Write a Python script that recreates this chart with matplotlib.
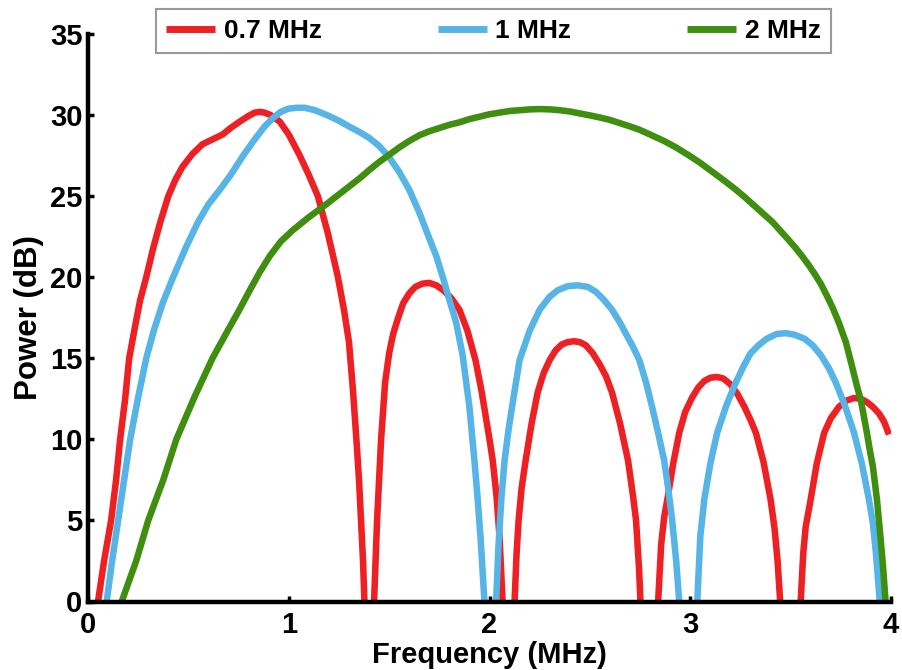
import matplotlib
matplotlib.use("Agg")
import matplotlib.pyplot as plt

# ---- data ----
labels = ["0.7 MHz", "1 MHz", "2 MHz"]

x_07 = [0.05, 0.08, 0.115, 0.14, 0.16, 0.185, 0.205, 0.235, 0.26, 0.29, 0.325, 0.36, 0.40, 0.435, 0.47,
        0.52, 0.57, 0.62, 0.67, 0.71, 0.756, 0.80, 0.83, 0.856, 0.88, 0.91, 0.955, 1.0, 1.055, 1.10,
        1.145, 1.195, 1.245, 1.275, 1.30, 1.32, 1.337, 1.35, 1.36, 1.37, 1.377, 1.40,
        1.425, 1.44, 1.46, 1.48, 1.50, 1.52, 1.545, 1.57, 1.60, 1.63, 1.665, 1.70, 1.735, 1.77, 1.81,
        1.85, 1.89, 1.93, 1.96, 1.98, 2.00, 2.016, 2.035, 2.05, 2.065, 2.095,
        2.125, 2.135, 2.145, 2.16, 2.18, 2.21, 2.24, 2.27, 2.30, 2.33, 2.36, 2.39, 2.42, 2.45, 2.48,
        2.515, 2.55, 2.58, 2.61, 2.65, 2.69, 2.715, 2.73, 2.745, 2.752, 2.795,
        2.84, 2.855, 2.87, 2.886, 2.915, 2.945, 2.975, 3.01, 3.04, 3.07, 3.10, 3.134, 3.165, 3.20,
        3.235, 3.27, 3.30, 3.327, 3.365, 3.40, 3.42, 3.435, 3.448, 3.50,
        3.55, 3.563, 3.575, 3.60, 3.63, 3.667, 3.70, 3.74, 3.78, 3.815, 3.85, 3.88, 3.91, 3.94,
        3.965, 3.99]
y_07 = [0, 2.5, 5, 7.5, 10, 12.5, 15, 17, 18.6, 20, 21.8, 23.4, 25, 26, 26.8,
        27.6, 28.2, 28.5, 28.8, 29.2, 29.6, 29.95, 30.15, 30.2, 30.15, 30.0, 29.6, 28.8, 27.5, 26.3,
        25, 22.7, 20, 18, 16, 13, 10, 7.5, 5, 2.5, 0, -10,
        0, 5, 10, 13.5, 15.3, 16.5, 17.5, 18.4, 19.0, 19.4, 19.6, 19.65, 19.5, 19.2, 18.7,
        18.0, 16.7, 14.9, 13.0, 11.5, 10, 8.7, 6.5, 4, 0, -10,
        0, 3, 5, 7, 8.7, 11, 12.9, 14.1, 14.9, 15.5, 15.85, 16.0, 16.05, 16.0, 15.8,
        15.3, 14.6, 13.9, 12.9, 11, 8.7, 6.5, 5, 2, 0, -10,
        0, 3.5, 5.2, 6.3, 8.5, 10.4, 11.7, 12.6, 13.2, 13.6, 13.8, 13.85, 13.75, 13.4,
        12.8, 12, 11.2, 10.4, 8.6, 6.3, 4.5, 2.5, 0, -10,
        0, 3, 4.6, 6.3, 8.5, 10.4, 11.3, 12.0, 12.4, 12.55, 12.5, 12.3, 12.0, 11.6,
        11.1, 10.3]

x_1 = [0.093, 0.12, 0.15, 0.18, 0.21, 0.25, 0.29, 0.33, 0.375, 0.424, 0.49, 0.548, 0.60, 0.657,
       0.71, 0.773, 0.83, 0.88, 0.92, 0.96, 1.00, 1.04, 1.08, 1.13, 1.19, 1.25, 1.30, 1.353, 1.40, 1.45,
       1.50, 1.55, 1.60, 1.65, 1.70, 1.735, 1.77, 1.80, 1.834, 1.866, 1.90, 1.925,
       1.94, 1.955, 1.975, 2.005,
       2.033, 2.045, 2.06, 2.075, 2.095, 2.12, 2.15, 2.20, 2.25, 2.30, 2.34, 2.39, 2.44, 2.49, 2.53,
       2.57, 2.61, 2.65, 2.68, 2.715, 2.746, 2.78, 2.81, 2.84, 2.87, 2.89, 2.91, 2.93, 2.945, 2.99,
       3.035, 3.05, 3.07, 3.10, 3.134, 3.18, 3.227, 3.265, 3.30, 3.34, 3.38, 3.43, 3.476, 3.52, 3.57,
       3.61, 3.65, 3.69, 3.725, 3.77, 3.816, 3.855, 3.89, 3.91, 3.925, 3.944, 3.99]
y_1 = [0, 2.5, 5, 7.5, 10, 12.6, 15, 16.8, 18.5, 20, 21.9, 23.4, 24.5, 25.4,
       26.3, 27.5, 28.5, 29.3, 29.8, 30.2, 30.4, 30.45, 30.45, 30.3, 30.0, 29.65, 29.3, 28.95, 28.6, 28.1,
       27.4, 26.5, 25.4, 24.0, 22.4, 21.3, 19.9, 18.6, 17.2, 15.2, 12.0, 8.7,
       6.5, 4, 0, -10,
       0, 3.5, 6.5, 8.7, 10.6, 12.6, 14.9, 16.7, 18, 18.8, 19.2, 19.45, 19.5, 19.4, 19.1,
       18.6, 18, 17.2, 16.5, 15.7, 14.9, 13.5, 12, 10.4, 8.7, 7, 5, 2.5, 0, -10,
       0, 4, 6.3, 8.5, 10.4, 12.1, 13.5, 14.5, 15.3, 15.8, 16.2, 16.5, 16.55, 16.45, 16.2,
       15.8, 15.2, 14.4, 13.5, 12.1, 10.4, 8.5, 6.3, 4.8, 3, 0, -10]

x_2 = [0.168, 0.24, 0.30, 0.375, 0.44, 0.485, 0.53, 0.575, 0.62, 0.66, 0.70, 0.75, 0.806, 0.855,
       0.905, 0.96, 1.02, 1.10, 1.187, 1.27, 1.353, 1.40, 1.45, 1.50, 1.55, 1.60, 1.65, 1.70, 1.75,
       1.80, 1.85, 1.90, 1.95, 2.00, 2.05, 2.10, 2.15, 2.20, 2.25, 2.30, 2.35, 2.40, 2.45, 2.50,
       2.55, 2.60, 2.65, 2.70, 2.746, 2.80, 2.87, 2.93, 2.995, 3.05, 3.11, 3.17, 3.227, 3.275, 3.32,
       3.365, 3.41, 3.45, 3.49, 3.525, 3.557, 3.59, 3.62, 3.65, 3.675, 3.71, 3.74, 3.775, 3.806,
       3.83, 3.85, 3.865, 3.88, 3.895, 3.91, 3.93, 3.945, 3.96, 3.973, 3.99]
y_2 = [0, 2.5, 5, 7.5, 10, 11.3, 12.6, 13.8, 15, 15.9, 16.8, 17.9, 19.2, 20.3,
       21.3, 22.2, 22.9, 23.7, 24.5, 25.3, 26.1, 26.6, 27.1, 27.55, 28.0, 28.4, 28.75, 29.0, 29.2,
       29.4, 29.55, 29.75, 29.9, 30.05, 30.15, 30.25, 30.3, 30.35, 30.37, 30.35, 30.3, 30.22, 30.1, 29.98,
       29.85, 29.7, 29.5, 29.3, 29.1, 28.8, 28.4, 28.0, 27.5, 27.05, 26.5, 25.95, 25.4, 24.9, 24.4,
       23.9, 23.4, 22.85, 22.3, 21.8, 21.3, 20.75, 20.2, 19.6, 19.0, 18.1, 17.2, 16.0, 14.5,
       13.3, 12.4, 11.4, 10.4, 9.3, 8.3, 6.3, 4.3, 2.2, 0, -10]

x_ticks = [0, 1, 2, 3, 4]
y_ticks = [0, 5, 10, 15, 20, 25, 30, 35]

colors = ["#ED2024", "#56B4E6", "#3F8E10"]

plt.rcParams['font.family'] = ['Liberation Sans', 'DejaVu Sans']
plt.rcParams['font.weight'] = 'bold'

fig = plt.figure(figsize=(9.02, 6.70), dpi=100)
ax = fig.add_axes([88/902, 1 - 601.5/670, (891-88)/902, (601.5-34)/670])

lw = 4.7
for xs, ys, c, lab in zip([x_07, x_1, x_2], [y_07, y_1, y_2], colors, labels):
    ax.plot(xs, ys, color=c, lw=lw, label=lab, solid_capstyle='butt', solid_joinstyle='round')

ax.set_xlim(0, 4)
ax.set_ylim(0, 35)
ax.set_xticks(x_ticks)
ax.set_yticks(y_ticks)
ax.spines['top'].set_visible(False)
ax.spines['right'].set_visible(False)
for s in ['left', 'bottom']:
    ax.spines[s].set_linewidth(3.2)
ax.tick_params(direction='in', length=4, width=2.5, labelsize=21)
ax.tick_params(axis='x', pad=7)
ax.tick_params(axis='y', pad=4)
for t in ax.get_xticklabels() + ax.get_yticklabels():
    t.set_fontweight('bold')

ax.set_xlabel("Frequency (MHz)", fontsize=21, fontweight='bold', labelpad=1)
ax.set_ylabel("Power (dB)", fontsize=22.5, fontweight='bold', labelpad=4)

leg = ax.legend(loc='center', bbox_to_anchor=(493.5/902, 1 - 31/670), bbox_transform=fig.transFigure,
                ncol=3, fontsize=19, frameon=True, fancybox=False, handlelength=1.85,
                handletextpad=0.32, columnspacing=4.4, borderpad=0.38, borderaxespad=0)
leg.get_frame().set_edgecolor('#808080')
leg.get_frame().set_linewidth(1.5)
for t in leg.get_texts():
    t.set_fontweight('bold')
for h in leg.get_lines():
    h.set_linewidth(5)

fig.savefig("out.png", dpi=100)
